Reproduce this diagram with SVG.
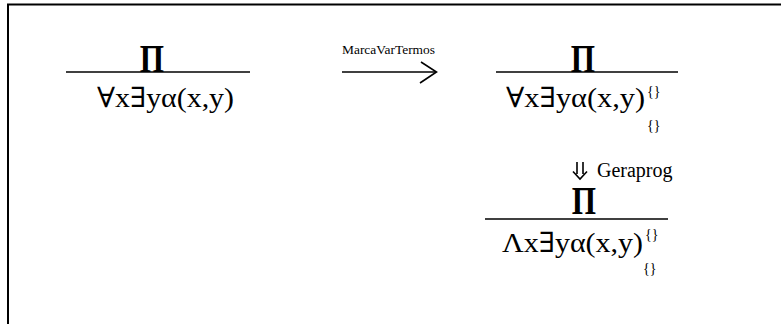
<svg xmlns="http://www.w3.org/2000/svg" width="781" height="324" viewBox="0 0 781 324">
<style>
.t{font-family:"Liberation Serif","DejaVu Serif",serif;fill:#000}
.f{font-size:28px}
.p{font-size:40px;font-weight:bold}
.s{font-size:14px}
.l{font-size:13px}
.ln{stroke:#000;stroke-width:1.6;fill:none}
</style>
<rect width="781" height="324" fill="#fff"/>
<path d="M8 324 V4.5 H781" stroke="#000" stroke-width="2" fill="none"/>
<g id="node-left">
<text class="t p" text-anchor="middle" transform="translate(152,72) scale(0.78,1)">Π</text>
<line class="ln" x1="66" y1="72" x2="250" y2="72"/>
<text class="t f" x="97" y="107" textLength="137" lengthAdjust="spacingAndGlyphs">∀x∃yα(x,y)</text>
</g>
<g id="node-right">
<text class="t p" text-anchor="middle" transform="translate(583,72) scale(0.78,1)">Π</text>
<line class="ln" x1="496" y1="72" x2="678" y2="72"/>
<text class="t f" x="506" y="107" textLength="139" lengthAdjust="spacingAndGlyphs">∀x∃yα(x,y)</text>
<text class="t s" x="647" y="96">{}</text>
<text class="t s" x="647" y="130">{}</text>
</g>
<g id="node-bottom">
<text class="t p" text-anchor="middle" transform="translate(584,214) scale(0.78,1)">Π</text>
<line class="ln" x1="485" y1="219" x2="668" y2="219"/>
<text class="t f" x="502" y="252" textLength="141" lengthAdjust="spacingAndGlyphs">Λx∃yα(x,y)</text>
<text class="t s" x="645" y="239">{}</text>
<text class="t s" x="643" y="273">{}</text>
</g>
<g id="connectors">
<line class="ln" x1="342" y1="72" x2="436" y2="72"/>
<path class="ln" d="M421 62 L436.5 72 L420 83"/>
<text class="t l" x="342" y="54" textLength="93" lengthAdjust="spacingAndGlyphs">MarcaVarTermos</text>
<path class="ln" d="M577 162 V174 M583 162 V174 M573 171.5 L580 179 L587 171.5"/>
<text class="t" font-size="20" x="597" y="177">Geraprog</text>
</g>
</svg>
